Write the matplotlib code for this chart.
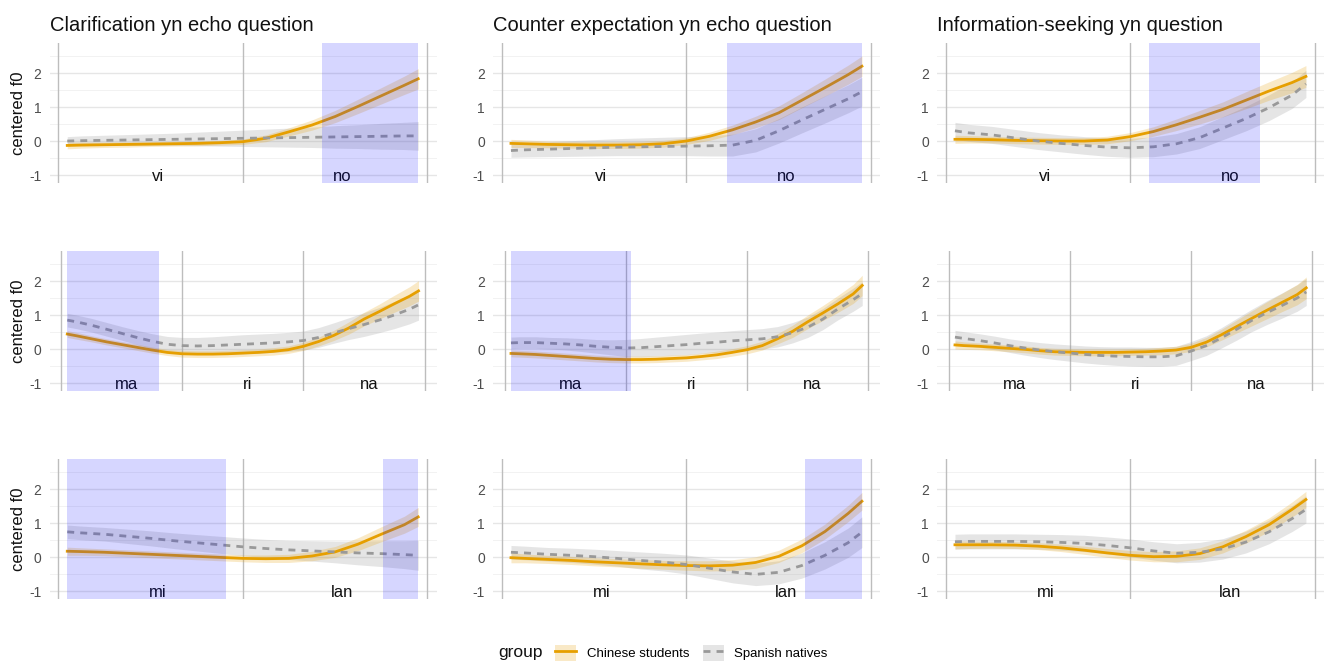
import numpy as np
import matplotlib
matplotlib.use("Agg")
import matplotlib.pyplot as plt
from matplotlib.patches import Patch
from matplotlib.lines import Line2D

plt.rcParams["font.family"] = ["Liberation Sans", "DejaVu Sans"]

# question types (columns) and words (rows)
titles = ["Clarification yn echo question",
          "Counter expectation yn echo question",
          "Information-seeking yn question"]
words = [["vi", "no"], ["ma", "ri", "na"], ["mi", "lan"]]

# sample positions along the word (syllable units)
u2 = [0.05, 0.125, 0.25, 0.375, 0.5, 0.625, 0.75, 0.875, 1.0,
      1.125, 1.25, 1.375, 1.5, 1.625, 1.75, 1.875, 1.95]
u3 = [0.05, 0.125, 0.25, 0.375, 0.5, 0.625, 0.75, 0.875, 1.0,
      1.125, 1.25, 1.375, 1.5, 1.625, 1.75, 1.875, 2.0,
      2.125, 2.25, 2.375, 2.5, 2.625, 2.75, 2.875, 2.95]

# --- vino ---
clar_vino_cn = [-0.13, -0.12, -0.11, -0.10, -0.09, -0.08, -0.07, -0.05, -0.02,
                0.08, 0.27, 0.47, 0.72, 1.02, 1.33, 1.64, 1.83]
clar_vino_cn_ci = [0.1, 0.09, 0.08, 0.08, 0.07, 0.07, 0.07, 0.07, 0.08,
                   0.1, 0.12, 0.15, 0.18, 0.21, 0.24, 0.27, 0.3]
clar_vino_es = [0.0, 0.01, 0.02, 0.03, 0.04, 0.05, 0.06, 0.07, 0.08,
                0.09, 0.1, 0.11, 0.12, 0.13, 0.14, 0.15, 0.15]
clar_vino_es_ci = [0.13, 0.14, 0.15, 0.16, 0.17, 0.18, 0.2, 0.22, 0.24,
                   0.26, 0.28, 0.3, 0.33, 0.35, 0.38, 0.4, 0.42]

cntr_vino_cn = [-0.07, -0.08, -0.1, -0.11, -0.12, -0.12, -0.11, -0.08, 0.0,
                0.14, 0.33, 0.56, 0.83, 1.2, 1.57, 1.95, 2.2]
cntr_vino_cn_ci = [0.12, 0.11, 0.1, 0.1, 0.1, 0.1, 0.1, 0.1, 0.1,
                   0.12, 0.14, 0.17, 0.2, 0.22, 0.25, 0.28, 0.3]
cntr_vino_es = [-0.28, -0.26, -0.24, -0.22, -0.2, -0.18, -0.17, -0.16, -0.15,
                -0.14, -0.12, 0.02, 0.3, 0.62, 0.93, 1.24, 1.45]
cntr_vino_es_ci = [0.2, 0.21, 0.22, 0.23, 0.24, 0.25, 0.26, 0.27, 0.28,
                   0.3, 0.32, 0.34, 0.36, 0.38, 0.4, 0.41, 0.42]

info_vino_cn = [0.05, 0.05, 0.04, 0.02, 0.01, 0.0, 0.0, 0.03, 0.13,
                0.28, 0.48, 0.7, 0.93, 1.2, 1.47, 1.72, 1.9]
info_vino_cn_ci = [0.12, 0.11, 0.1, 0.1, 0.1, 0.1, 0.1, 0.11, 0.12,
                   0.14, 0.17, 0.2, 0.22, 0.25, 0.27, 0.3, 0.32]
info_vino_es = [0.3, 0.24, 0.18, 0.09, 0.0, -0.07, -0.13, -0.18, -0.2,
                -0.17, -0.08, 0.1, 0.38, 0.66, 0.98, 1.35, 1.68]
info_vino_es_ci = [0.25, 0.25, 0.25, 0.25, 0.25, 0.25, 0.26, 0.27, 0.28,
                   0.29, 0.3, 0.32, 0.34, 0.36, 0.38, 0.39, 0.4]

# --- marina ---
clar_marina_cn = [0.44, 0.39, 0.3, 0.21, 0.13, 0.05, -0.03, -0.1, -0.14,
                  -0.15, -0.15, -0.14, -0.12, -0.1, -0.07, -0.02, 0.08,
                  0.22, 0.4, 0.62, 0.88, 1.1, 1.33, 1.55, 1.71]
clar_marina_cn_ci = [0.1, 0.1, 0.09, 0.09, 0.09, 0.09, 0.09, 0.09, 0.1,
                     0.1, 0.1, 0.1, 0.1, 0.1, 0.11, 0.11, 0.12,
                     0.13, 0.15, 0.18, 0.2, 0.22, 0.25, 0.28, 0.3]
clar_marina_es = [0.85, 0.8, 0.7, 0.58, 0.46, 0.34, 0.23, 0.14, 0.1,
                  0.09, 0.1, 0.12, 0.14, 0.16, 0.18, 0.21, 0.25,
                  0.34, 0.47, 0.6, 0.72, 0.85, 1.0, 1.17, 1.3]
clar_marina_es_ci = [0.2, 0.2, 0.2, 0.2, 0.2, 0.21, 0.22, 0.23, 0.24,
                     0.25, 0.26, 0.27, 0.28, 0.28, 0.28, 0.28, 0.28,
                     0.29, 0.3, 0.32, 0.35, 0.37, 0.4, 0.43, 0.45]

cntr_marina_cn = [-0.13, -0.14, -0.16, -0.19, -0.22, -0.25, -0.28, -0.3, -0.31,
                  -0.31, -0.3, -0.28, -0.26, -0.22, -0.17, -0.1, -0.02,
                  0.1, 0.3, 0.52, 0.8, 1.06, 1.33, 1.62, 1.87]
cntr_marina_cn_ci = [0.1, 0.1, 0.1, 0.1, 0.1, 0.1, 0.1, 0.1, 0.1,
                     0.1, 0.1, 0.1, 0.1, 0.1, 0.11, 0.11, 0.12,
                     0.13, 0.15, 0.18, 0.2, 0.22, 0.25, 0.28, 0.3]
cntr_marina_es = [0.18, 0.19, 0.19, 0.17, 0.15, 0.12, 0.08, 0.05, 0.03,
                  0.04, 0.07, 0.1, 0.13, 0.17, 0.2, 0.24, 0.27,
                  0.3, 0.36, 0.48, 0.64, 0.88, 1.18, 1.45, 1.63]
cntr_marina_es_ci = [0.17, 0.17, 0.17, 0.17, 0.18, 0.19, 0.2, 0.22, 0.25,
                     0.27, 0.28, 0.29, 0.3, 0.3, 0.3, 0.3, 0.3,
                     0.3, 0.3, 0.3, 0.3, 0.31, 0.32, 0.34, 0.35]

info_marina_cn = [0.12, 0.1, 0.08, 0.05, 0.02, -0.01, -0.05, -0.08, -0.09,
                  -0.1, -0.1, -0.1, -0.09, -0.08, -0.06, -0.03, 0.05,
                  0.2, 0.42, 0.66, 0.9, 1.14, 1.37, 1.6, 1.8]
info_marina_cn_ci = [0.12, 0.11, 0.1, 0.1, 0.1, 0.1, 0.1, 0.1, 0.1,
                     0.1, 0.1, 0.1, 0.1, 0.1, 0.11, 0.11, 0.12,
                     0.14, 0.16, 0.19, 0.22, 0.25, 0.27, 0.3, 0.32]
info_marina_es = [0.35, 0.31, 0.25, 0.18, 0.1, 0.03, -0.03, -0.08, -0.12,
                  -0.16, -0.19, -0.21, -0.22, -0.23, -0.23, -0.2, -0.06,
                  0.1, 0.33, 0.58, 0.84, 1.07, 1.28, 1.5, 1.68]
info_marina_es_ci = [0.2, 0.2, 0.2, 0.2, 0.2, 0.21, 0.22, 0.23, 0.24,
                     0.25, 0.26, 0.27, 0.28, 0.28, 0.28, 0.28, 0.28,
                     0.29, 0.3, 0.32, 0.33, 0.35, 0.37, 0.39, 0.4]

# --- milan ---
clar_milan_cn = [0.17, 0.16, 0.14, 0.11, 0.08, 0.05, 0.02, -0.01, -0.04,
                 -0.05, -0.04, 0.03, 0.15, 0.38, 0.67, 0.95, 1.18]
clar_milan_cn_ci = [0.12, 0.11, 0.1, 0.1, 0.1, 0.1, 0.1, 0.1, 0.1,
                    0.11, 0.12, 0.14, 0.16, 0.19, 0.22, 0.25, 0.28]
clar_milan_es = [0.74, 0.71, 0.67, 0.61, 0.55, 0.48, 0.42, 0.36, 0.3,
                 0.25, 0.21, 0.18, 0.15, 0.12, 0.1, 0.07, 0.05]
clar_milan_es_ci = [0.2, 0.2, 0.2, 0.21, 0.22, 0.23, 0.24, 0.25, 0.26,
                    0.27, 0.28, 0.3, 0.32, 0.35, 0.38, 0.41, 0.44]

cntr_milan_cn = [-0.02, -0.04, -0.07, -0.1, -0.14, -0.17, -0.2, -0.23, -0.25,
                 -0.26, -0.24, -0.16, 0.02, 0.33, 0.75, 1.28, 1.64]
cntr_milan_cn_ci = [0.15, 0.13, 0.12, 0.12, 0.12, 0.12, 0.13, 0.13, 0.14,
                    0.15, 0.16, 0.17, 0.18, 0.2, 0.22, 0.24, 0.26]
cntr_milan_es = [0.14, 0.12, 0.08, 0.05, 0.01, -0.04, -0.1, -0.15, -0.22,
                 -0.33, -0.44, -0.51, -0.45, -0.25, 0.05, 0.42, 0.73]
cntr_milan_es_ci = [0.2, 0.2, 0.2, 0.21, 0.22, 0.23, 0.25, 0.26, 0.28,
                    0.3, 0.32, 0.33, 0.34, 0.37, 0.4, 0.43, 0.45]

info_milan_cn = [0.36, 0.36, 0.36, 0.35, 0.32, 0.27, 0.2, 0.12, 0.05,
                 0.01, 0.02, 0.1, 0.3, 0.6, 0.95, 1.4, 1.69]
info_milan_cn_ci = [0.12, 0.11, 0.1, 0.1, 0.1, 0.11, 0.12, 0.13, 0.14,
                    0.15, 0.16, 0.17, 0.18, 0.19, 0.2, 0.22, 0.24]
info_milan_es = [0.45, 0.46, 0.46, 0.46, 0.45, 0.43, 0.4, 0.34, 0.27,
                 0.18, 0.11, 0.14, 0.24, 0.44, 0.74, 1.13, 1.4]
info_milan_es_ci = [0.22, 0.22, 0.22, 0.22, 0.22, 0.23, 0.24, 0.25, 0.26,
                    0.27, 0.28, 0.29, 0.3, 0.32, 0.35, 0.38, 0.4]

# highlighted (focus) spans per panel
spans = [
    [[(1.43, 1.95)], [(1.22, 1.95)], [(1.10, 1.70)]],
    [[(0.05, 0.81)], [(0.05, 1.04)], []],
    [[(0.05, 0.91), (1.76, 1.95)], [(1.64, 1.95)], []],
]

panels = [
    [(clar_vino_cn, clar_vino_cn_ci, clar_vino_es, clar_vino_es_ci),
     (cntr_vino_cn, cntr_vino_cn_ci, cntr_vino_es, cntr_vino_es_ci),
     (info_vino_cn, info_vino_cn_ci, info_vino_es, info_vino_es_ci)],
    [(clar_marina_cn, clar_marina_cn_ci, clar_marina_es, clar_marina_es_ci),
     (cntr_marina_cn, cntr_marina_cn_ci, cntr_marina_es, cntr_marina_es_ci),
     (info_marina_cn, info_marina_cn_ci, info_marina_es, info_marina_es_ci)],
    [(clar_milan_cn, clar_milan_cn_ci, clar_milan_es, clar_milan_es_ci),
     (cntr_milan_cn, cntr_milan_cn_ci, cntr_milan_es, cntr_milan_es_ci),
     (info_milan_cn, info_milan_cn_ci, info_milan_es, info_milan_es_ci)],
]

ORANGE = "#E69F00"
GREY = "#999999"
W, H = 1325, 662

fig = plt.figure(figsize=(W / 100, H / 100), dpi=100)

col_left = [49.7, 493.4, 937.4]
row_bottom = [182.5, 390.5, 598.5]
ax_w, ax_h = 387, 139.4

for r in range(3):
    nsyl = len(words[r])
    u = u2 if nsyl == 2 else u3
    for c in range(3):
        ax = fig.add_axes([col_left[c] / W, 1 - row_bottom[r] / H, ax_w / W, ax_h / H])
        cn, cn_ci, es, es_ci = [np.array(a) for a in panels[r][c]]

        ax.set_ylim(-1.22, 2.88)
        if nsyl == 2:
            ax.set_xlim(-0.045, 2.05)
        else:
            ax.set_xlim(-0.095, 3.1)

        for y in [-0.5, 0.5, 1.5, 2.5]:
            ax.axhline(y, color="#f2f2f2", lw=0.7, zorder=0)
        for y in [-1, 0, 1, 2]:
            ax.axhline(y, color="#e6e6e6", lw=1.0, zorder=0)
        for b in range(nsyl + 1):
            ax.axvline(b, color="#bdbdbd", lw=1.0, zorder=1)

        ax.fill_between(u, es - es_ci, es + es_ci, color=GREY, alpha=0.25, lw=0, zorder=2)
        ax.fill_between(u, cn - cn_ci, cn + cn_ci, color=ORANGE, alpha=0.22, lw=0, zorder=2)
        ax.plot(u, cn, color=ORANGE, lw=2.0, zorder=3, solid_joinstyle="round")
        ax.plot(u, es, color=GREY, lw=2.0, ls=(0, (2.5, 2.2)), zorder=3)

        for i, w in enumerate(words[r]):
            ax.text(i + 0.5 + 0.04, -1.05, w, ha="center", va="center",
                    fontsize=12, color="#111111", zorder=4)

        for (a, b) in spans[r][c]:
            ax.axvspan(a, b, color="blue", alpha=0.16, lw=0, zorder=5)

        ax.set_yticks([-1, 0, 1, 2])
        ax.set_yticklabels(["-1", "0", "1", "2"])
        ax.set_xticks([])
        ax.tick_params(axis="y", length=0, pad=6, labelsize=10, labelcolor="#4d4d4d")
        for s in ax.spines.values():
            s.set_visible(False)

        if r == 0:
            ax.set_title(titles[c], loc="left", fontsize=14.5, pad=9, color="#111111")
        if c == 0:
            ax.set_ylabel("centered f0", fontsize=12, color="#111111")
            ax.yaxis.set_label_coords(-0.062, 0.5)

handles = [
    (Patch(facecolor=ORANGE, alpha=0.22, lw=0), Line2D([], [], color=ORANGE, lw=2.0)),
    (Patch(facecolor=GREY, alpha=0.25, lw=0), Line2D([], [], color=GREY, lw=2.0, ls=(0, (2.5, 2.2)))),
]
fig.text(498 / W, 1 - 653 / H, "group", fontsize=12.5, va="center", ha="left", color="#111111")
fig.legend(handles, ["Chinese students", "Spanish natives"], loc="center left",
           bbox_to_anchor=(546 / W, 1 - 653 / H), ncol=2, frameon=False, fontsize=9.5,
           handlelength=1.6, handleheight=1.6, handletextpad=0.8, columnspacing=1.0,
           borderpad=0.2)

fig.savefig("out.png", dpi=100)
